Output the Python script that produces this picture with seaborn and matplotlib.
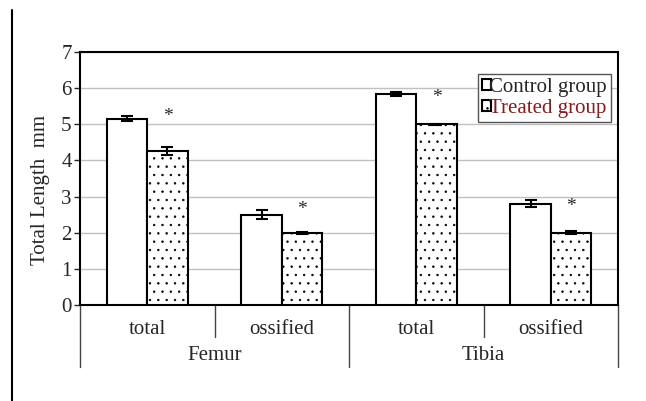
import numpy as np
import pandas as pd
import matplotlib.pyplot as plt
from matplotlib.patches import Patch
from matplotlib.lines import Line2D
import seaborn as sns

bones    = ['Femur', 'Femur', 'Tibia', 'Tibia']
measures = ['total', 'ossified', 'total', 'ossified']
control     = [5.15, 2.50, 5.83, 2.80]
control_err = [0.07, 0.12, 0.06, 0.10]
treated     = [4.25, 2.00, 5.00, 2.00]
treated_err = [0.11, 0.03, 0.02, 0.04]
star_y      = [5.22, 2.64, 5.74, 2.73]
groups = ['Control group', 'Treated group']

cats = [f'{b} {m}' for b, m in zip(bones, measures)]
df = pd.DataFrame({
    'cat': cats * 2,
    'group': [groups[0]] * 4 + [groups[1]] * 4,
    'value': control + treated,
})

sns.set_style('white')
plt.rcParams['font.family'] = ['Liberation Serif', 'DejaVu Serif']
plt.rcParams['hatch.linewidth'] = 0.5

fig = plt.figure(figsize=(6.46, 4.01), dpi=100)
ax = fig.add_axes([80 / 646, 1 - 305 / 401, 538 / 646, 253 / 401])

sns.barplot(data=df, x='cat', y='value', hue='group', order=cats,
            hue_order=groups, palette=['white', 'white'], width=0.6,
            edgecolor='black', linewidth=1.5, errorbar=None, legend=False,
            ax=ax, zorder=3)

# dotted fill for the treated bars, error bars and stars
bars = [p for p in ax.patches if p.get_height() > 0]
n = len(cats)
for i, p in enumerate(bars):
    xc = p.get_x() + p.get_width() / 2
    h = p.get_height()
    if i >= n:
        p.set_hatch('..')
        err = treated_err[i - n]
        ax.text(xc, star_y[i - n], '*', ha='center', va='center', fontsize=14)
    else:
        err = control_err[i]
    ax.errorbar(xc, h, yerr=err, color='black', capsize=4, capthick=1.5,
                elinewidth=1.5, zorder=4)

ax.set_ylim(0, 7)
ax.set_yticks(range(0, 8))
ax.set_yticklabels([str(v) for v in range(0, 8)], fontsize=15)
ax.tick_params(axis='y', left=True, length=4, width=1, pad=2)
ax.set_xlim(-0.5, n - 0.5)
ax.set_xticks([])
ax.set_xlabel('')
ax.set_ylabel('Total Length  mm', fontsize=15)
ax.yaxis.set_label_coords(-0.055, 0.455)
ax.yaxis.grid(True, color='#c0c0c0', linewidth=1, zorder=0)
ax.set_axisbelow(True)
for s in ax.spines.values():
    s.set_visible(True)
    s.set_color('black')
    s.set_linewidth(1.5)

# two-level category axis
trans = ax.get_xaxis_transform()
for i, m in enumerate(measures):
    ax.text(i, -0.095, m, transform=trans, ha='center', va='center', fontsize=15)
for j, b in enumerate(['Femur', 'Tibia']):
    ax.text(2 * j + 0.5, -0.2, b, transform=trans, ha='center', va='center', fontsize=15)
for xv, low in [(-0.5, -0.245), (0.5, -0.125), (1.5, -0.245), (2.5, -0.125), (3.5, -0.245)]:
    ax.add_line(Line2D([xv, xv], [0, low], transform=trans, color='#444444',
                       linewidth=1, clip_on=False))

handles = [Patch(facecolor='white', edgecolor='black', linewidth=1.5),
           Patch(facecolor='white', edgecolor='black', linewidth=1.5, hatch='..')]
leg = ax.legend(handles, groups, loc='upper right', bbox_to_anchor=(0.987, 0.913),
                fontsize=15, frameon=True, fancybox=False, framealpha=1,
                edgecolor='#555555', handlelength=0.45, handleheight=0.45,
                handletextpad=-0.1, borderpad=0.2, labelspacing=0.1,
                borderaxespad=0)
leg.get_frame().set_linewidth(1)
leg.get_texts()[1].set_color('#8b1a1a')

fig.add_artist(Line2D([12 / 646, 12 / 646], [0, 1 - 10 / 401], color='black',
                      linewidth=1.5))

fig.savefig('out.png', dpi=100)
